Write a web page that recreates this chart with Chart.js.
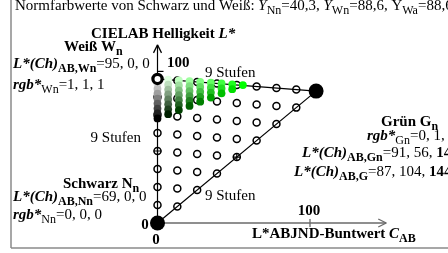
<!DOCTYPE html>
<html><head><meta charset="utf-8">
<script src="https://cdn.jsdelivr.net/npm/chart.js@4"></script>
<style>html,body{margin:0;padding:0;background:#fff;overflow:hidden}#wrap{width:448px;height:253px;position:relative}</style>
</head><body><div id="wrap"><canvas id="c" width="448" height="253"></canvas></div>
<script>
// ---- data (C = chroma, L = lightness) ----
const pointN = [0, 0];
const pointW = [0, 95];
const pointG = [104, 87];
const gridC = [0, 13, 26, 39, 52, 65, 78, 91, 104];
const gridL = [
  [0, 11.9, 23.8, 35.6, 47.5, 59.4, 71.3, 83.1, 95],
  [10.9, 22.8, 34.6, 46.5, 58.4, 70.3, 82.1, 94],
  [21.8, 33.6, 45.5, 57.4, 69.3, 81.1, 93],
  [32.6, 44.5, 56.4, 68.3, 80.1, 92],
  [43.5, 55.4, 67.3, 79.1, 91],
  [54.4, 66.3, 78.1, 90],
  [65.3, 77.1, 89],
  [76.1, 88],
  [87]
];
const crossC = [0, 52];
const crossL = [47.5, 43.5];
const colorC = [0, 7, 14, 21, 28, 35, 42, 49, 56];
const colorL = [
  [95, 91.75, 88.5, 85.25, 82, 78.75, 75.5, 72.25, 69],
  [94.5, 91.25, 88, 84.75, 81.5, 78.25, 75, 71.75],
  [94, 90.75, 87.5, 84.25, 81, 77.75, 74.5],
  [93.5, 90.25, 87, 83.75, 80.5, 77.25],
  [93, 89.75, 86.5, 83.25, 80],
  [92.5, 89.25, 86, 82.75],
  [92, 88.75, 85.5],
  [91.5, 88.25],
  [91]
];
const axisTicks = [100];

// ---- build datasets ----
const gridPts = [];
gridC.forEach((c, i) => gridL[i].forEach(l => gridPts.push({x: c, y: l})));
const crossPts = crossC.map((c, i) => ({x: c, y: crossL[i]}));
const colPts = [], colCols = [];
colorC.forEach((c, i) => colorL[i].forEach((l, j) => {
  colPts.push({x: c, y: l});
  const w = (8 - i - j) / 8, g = i / 8;
  const r = Math.round(255 * w), gg = Math.round(255 * Math.min(1, w + g));
  colCols.push(`rgb(${r},${gg},${r})`);
}));

const FAM = '"Liberation Serif","Times New Roman",serif';
const MAIN = 15, SUB = 12;
function fnt(s) { return (s.i ? 'italic ' : '') + (s.b ? 'bold ' : '') + (s.sub ? SUB : MAIN) + 'px ' + FAM; }
function rich(ctx, x, y, segs, align) {
  let total = 0;
  const parts = segs.map(s => { ctx.font = fnt(s); const w = ctx.measureText(s.t).width; total += w; return {s, w}; });
  let cx = align === 'right' ? x - total : align === 'center' ? x - total / 2 : x;
  for (const p of parts) { ctx.font = fnt(p.s); ctx.fillText(p.s.t, cx, y + (p.s.sub ? 3.5 : 0)); cx += p.w; }
}

const texts = [
  [15, 10, [{t:'Normfarbwerte von Schwarz und Weiß: '},{t:'Y',i:1},{t:'Nn',sub:1},{t:'=40,3, '},{t:'Y',i:1},{t:'Wn',sub:1},{t:'=88,6, Y'},{t:'Wa',sub:1},{t:'=88,6'}]],
  [91, 38, [{t:'CIELAB Helligkeit ',b:1},{t:'L*',b:1,i:1}]],
  [64, 51, [{t:'Weiß W',b:1},{t:'n',b:1,sub:1}]],
  [13, 68, [{t:'L*(Ch)',b:1,i:1},{t:'AB,Wn',b:1,sub:1},{t:'=95, 0, 0'}]],
  [13, 89, [{t:'rgb*',b:1,i:1},{t:'Wn',sub:1},{t:'=1, 1, 1'}]],
  [167, 67, [{t:'100',b:1}]],
  [205, 77, [{t:'9 Stufen'}]],
  [141, 142, [{t:'9 Stufen'}], 'right'],
  [63, 188, [{t:'Schwarz N',b:1},{t:'n',b:1,sub:1}]],
  [13, 201, [{t:'L*(Ch)',b:1,i:1},{t:'AB,Nn',b:1,sub:1},{t:'=69, 0, 0'}]],
  [13, 219, [{t:'rgb*',b:1,i:1},{t:'Nn',sub:1},{t:'=0, 0, 0'}]],
  [145, 229, [{t:'0',b:1}], 'center'],
  [156, 244, [{t:'0',b:1}], 'center'],
  [205, 200, [{t:'9 Stufen'}]],
  [309, 215, [{t:'100',b:1}], 'center'],
  [252, 238, [{t:'L*ABJND-Buntwert ',b:1},{t:'C',b:1,i:1},{t:'AB',b:1,sub:1}]],
  [381, 126, [{t:'Grün G',b:1},{t:'n',b:1,sub:1}]],
  [367, 140, [{t:'rgb*',b:1,i:1},{t:'Gn',sub:1},{t:'=0, 1, 0'}]],
  [302, 157, [{t:'L*(Ch)',b:1,i:1},{t:'AB,Gn',b:1,sub:1},{t:'=91, 56, '},{t:'144',b:1}]],
  [294, 176, [{t:'L*(Ch)',b:1,i:1},{t:'AB,G',b:1,sub:1},{t:'=87, 104, '},{t:'144',b:1}]]
];

const axesPlugin = {
  id: 'axes',
  beforeDatasetsDraw(chart) {
    const ctx = chart.ctx, xs = chart.scales.x, ys = chart.scales.y;
    const X = v => xs.getPixelForValue(v), Y = v => ys.getPixelForValue(v);
    const seg = (a, b, c, d) => { ctx.beginPath(); ctx.moveTo(a, b); ctx.lineTo(c, d); ctx.stroke(); };
    ctx.save();
    // frame
    ctx.strokeStyle = '#8a8a8a'; ctx.lineWidth = 1.5;
    seg(11, 0, 11, 248); seg(11, 248, 448, 248);
    // horizontal axis
    ctx.strokeStyle = '#6a6a6a'; ctx.lineWidth = 1.3;
    const x0 = X(0), y0 = Y(0), xe = X(150);
    seg(x0, y0, xe, y0);
    seg(xe - 8, y0 - 4, xe, y0); seg(xe - 8, y0 + 4, xe, y0);
    axisTicks.forEach(t => seg(X(t), y0 - 4, X(t), y0 + 4));
    // vertical axis
    ctx.strokeStyle = '#000'; ctx.lineWidth = 1.2;
    const ye = Y(117.5);
    seg(x0, y0, x0, ye);
    seg(x0 - 4, ye + 8, x0, ye); seg(x0 + 4, ye + 8, x0, ye);
    axisTicks.forEach(t => seg(x0, Y(t), x0 + 6, Y(t)));
    ctx.restore();
  },
  afterDraw(chart) {
    const ctx = chart.ctx;
    ctx.save();
    ctx.fillStyle = '#000'; ctx.textBaseline = 'alphabetic'; ctx.textAlign = 'left';
    texts.forEach(([x, y, segs, al]) => rich(ctx, x, y, segs, al));
    ctx.restore();
  }
};

new Chart(document.getElementById('c'), {
  type: 'scatter',
  data: { datasets: [
    { data: [{x: pointN[0], y: pointN[1]}, {x: pointG[0], y: pointG[1]}], showLine: true, borderColor: '#000', borderWidth: 1.2, pointRadius: 0, order: 9, clip: false },
    { data: [{x: pointW[0], y: pointW[1]}, {x: pointG[0], y: pointG[1]}], showLine: true, borderColor: '#000', borderWidth: 1.2, pointRadius: 0, order: 8, clip: false },
    { data: gridPts, pointRadius: 3.5, borderWidth: 1.5, pointBorderColor: '#000', pointBackgroundColor: 'rgba(255,255,255,0)', order: 7, clip: false },
    { data: crossPts, pointStyle: 'cross', pointRadius: 4, borderWidth: 1.2, pointBorderColor: '#000', order: 6, clip: false },
    { data: colPts, pointRadius: 3.9, borderWidth: 0, pointBorderWidth: 0, pointBackgroundColor: colCols, order: 5, clip: false },
    { data: [{x: pointW[0], y: pointW[1]}], pointRadius: 4.6, pointBorderWidth: 3.2, pointBorderColor: '#000', pointBackgroundColor: '#fff', order: 2, clip: false },
    { data: [{x: pointN[0], y: pointN[1]}, {x: pointG[0], y: pointG[1]}], pointRadius: 7.5, pointBorderWidth: 0, pointBackgroundColor: '#000', order: 1, clip: false }
  ]},
  options: {
    responsive: false, animation: false, devicePixelRatio: 1, events: [],
    layout: { padding: { left: 142.25, right: 61.75, top: 44.1, bottom: 14.84 } },
    scales: { x: { type: 'linear', min: -10, max: 150, display: false }, y: { type: 'linear', min: -10, max: 118, display: false } },
    plugins: { legend: { display: false }, tooltip: { enabled: false }, title: { display: false } }
  },
  plugins: [axesPlugin]
});
</script></body></html>
